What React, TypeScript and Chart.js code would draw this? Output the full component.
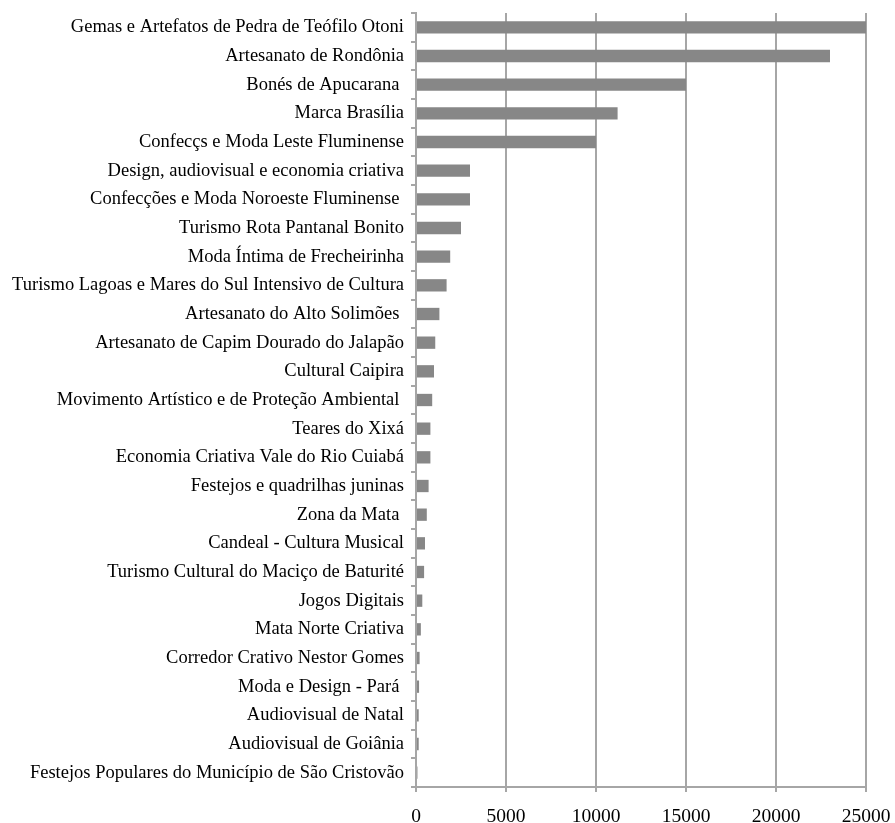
import React, { useEffect, useRef } from "react";
import { Chart, registerables } from "chart.js";

Chart.register(...registerables);

const categories = [
  "Gemas e Artefatos de Pedra de Teófilo Otoni",
  "Artesanato de Rondônia",
  "Bonés de Apucarana ",
  "Marca Brasília",
  "Confecçs e Moda Leste Fluminense",
  "Design, audiovisual e economia criativa",
  "Confecções e Moda Noroeste Fluminense ",
  "Turismo Rota Pantanal Bonito",
  "Moda Íntima de Frecheirinha",
  "Turismo Lagoas e Mares do Sul Intensivo de Cultura",
  "Artesanato do Alto Solimões ",
  "Artesanato de Capim Dourado do Jalapão",
  "Cultural Caipira",
  "Movimento Artístico e de Proteção Ambiental ",
  "Teares do Xixá",
  "Economia Criativa Vale do Rio Cuiabá",
  "Festejos e quadrilhas juninas",
  "Zona da Mata ",
  "Candeal - Cultura Musical",
  "Turismo Cultural do Maciço de Baturité",
  "Jogos Digitais",
  "Mata Norte Criativa",
  "Corredor Crativo Nestor Gomes",
  "Moda e Design - Pará ",
  "Audiovisual de Natal",
  "Audiovisual de Goiânia",
  "Festejos Populares do Município de São Cristovão",
];

const values = [
  25000, 23000, 15000, 11200, 10000, 3000, 3000, 2500, 1900, 1700, 1300, 1070,
  1000, 900, 800, 800, 700, 600, 500, 450, 350, 270, 200, 170, 150, 150, 80,
];

const xTicks = [0, 5000, 10000, 15000, 20000, 25000];

export default function App() {
  const ref = useRef<HTMLCanvasElement | null>(null);
  useEffect(() => {
    if (!ref.current) return;
    const chart = new Chart(ref.current, {
      type: "bar",
      data: {
        labels: categories,
        datasets: [
          {
            data: values,
            backgroundColor: "#878787",
            borderWidth: 0,
            barPercentage: 0.43,
            categoryPercentage: 1,
          },
        ],
      },
      options: {
        indexAxis: "y",
        animation: false,
        responsive: false,
        maintainAspectRatio: false,
        layout: { padding: { top: 13, right: 29, left: 0, bottom: 0 } },
        plugins: {
          legend: { display: false },
          tooltip: { enabled: false },
          title: { display: false },
        },
        scales: {
          x: {
            min: 0,
            max: 25000,
            afterBuildTicks: (scale: any) => {
              scale.ticks = xTicks.map((v) => ({ value: v }));
            },
            afterFit: (scale: any) => {
              scale.height = 36;
              scale.paddingLeft = 0;
              scale.paddingRight = 0;
            },
            grid: {
              color: "#a6a6a6",
              lineWidth: 2,
              tickLength: 5,
              drawTicks: true,
            },
            border: { color: "#a6a6a6", width: 2 },
            ticks: {
              autoSkip: false,
              maxRotation: 0,
              padding: 13,
              color: "#000",
              callback: (v: any) => String(v),
              font: { family: "'Liberation Serif', serif", size: 19.5 },
            },
          },
          y: {
            afterFit: (scale: any) => {
              scale.width = 416;
              scale.paddingTop = 0;
              scale.paddingBottom = 0;
            },
            grid: {
              drawOnChartArea: false,
              drawTicks: true,
              tickLength: 5,
              color: "#a6a6a6",
              lineWidth: 2,
              offset: true,
            },
            border: { color: "#a6a6a6", width: 2 },
            ticks: {
              autoSkip: false,
              padding: 7,
              color: "#000",
              font: { family: "'Liberation Serif', serif", size: 18.5 },
            },
          },
        },
      },
    });
    return () => chart.destroy();
  }, []);
  return (
    <div style={{ position: "fixed", left: 0, top: 0, width: 895, height: 823, background: "#fff" }}>
      <canvas ref={ref} width={895} height={823} style={{ width: 895, height: 823, display: "block" }} />
    </div>
  );
}
